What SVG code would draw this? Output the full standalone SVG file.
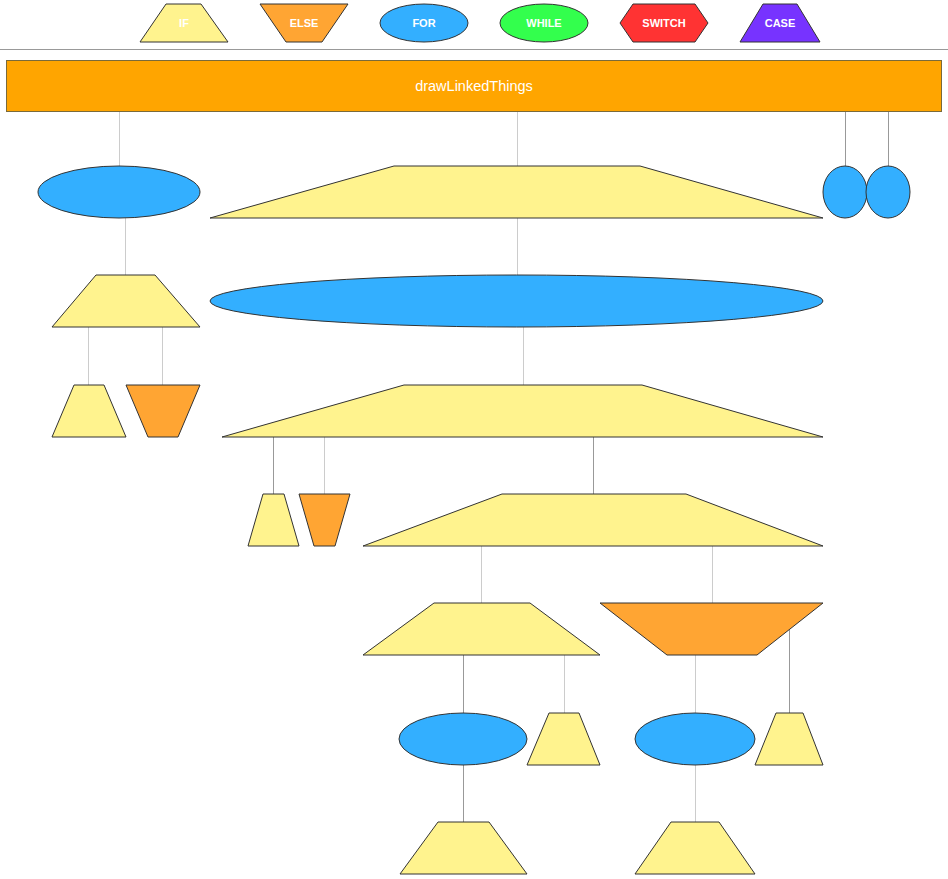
<svg xmlns="http://www.w3.org/2000/svg" width="948" height="879" viewBox="0 0 948 879">
<style>
.if{fill:#FFF38E;stroke:#333;stroke-width:1}
.else{fill:#FFA533;stroke:#333;stroke-width:1}
.for{fill:#33AFFF;stroke:#333;stroke-width:1}
.while{fill:#33FF4D;stroke:#333;stroke-width:1}
.switch{fill:#FF3333;stroke:#333;stroke-width:1}
.case{fill:#7733FF;stroke:#333;stroke-width:1}
.lt{font-family:"Liberation Sans",Arial,sans-serif;font-size:11px;font-weight:bold;fill:#fff;text-anchor:middle}
.lo{stroke:#ccc;stroke-width:1;fill:none}
.dk{stroke:#999;stroke-width:1;fill:none}
</style>
<rect width="948" height="879" fill="#fff"/>
<g id="legend">
<polygon class="if" points="166,4 201,4 228,42 140,42"/>
<text class="lt" x="184" y="27">IF</text>
<polygon class="else" points="260,4 348,4 322,42 286,42"/>
<text class="lt" x="304" y="27">ELSE</text>
<ellipse class="for" cx="424" cy="23" rx="44" ry="19"/>
<text class="lt" x="424" y="27">FOR</text>
<ellipse class="while" cx="544" cy="23" rx="44" ry="19"/>
<text class="lt" x="544" y="27">WHILE</text>
<polygon class="switch" points="620,23 633,4 695,4 708,23 695,42 633,42"/>
<text class="lt" x="664" y="27">SWITCH</text>
<polygon class="case" points="763,4 797,4 820,42 740,42"/>
<text class="lt" x="780" y="27">CASE</text>
</g>
<line x1="0" y1="49.5" x2="948" y2="49.5" stroke="#999" stroke-width="1"/>
<g id="connectors">
<line class="lo" x1="119.5" y1="112" x2="119.5" y2="166"/>
<line class="lo" x1="517.5" y1="112" x2="517.5" y2="166"/>
<line class="dk" x1="845.5" y1="112" x2="845.5" y2="166"/>
<line class="dk" x1="888.5" y1="112" x2="888.5" y2="166"/>
<line class="lo" x1="125.5" y1="218" x2="125.5" y2="275"/>
<line class="lo" x1="517.5" y1="218" x2="517.5" y2="275"/>
<line class="lo" x1="88.5" y1="327" x2="88.5" y2="385"/>
<line class="lo" x1="162.5" y1="327" x2="162.5" y2="385"/>
<line class="lo" x1="523.5" y1="327" x2="523.5" y2="385"/>
<line class="dk" x1="273.5" y1="437" x2="273.5" y2="494"/>
<line class="lo" x1="324.5" y1="437" x2="324.5" y2="494"/>
<line class="dk" x1="593.5" y1="437" x2="593.5" y2="494"/>
<line class="lo" x1="481.5" y1="546" x2="481.5" y2="603"/>
<line class="lo" x1="712.5" y1="546" x2="712.5" y2="603"/>
<line class="dk" x1="463.5" y1="655" x2="463.5" y2="713"/>
<line class="lo" x1="564.5" y1="655" x2="564.5" y2="713"/>
<line class="lo" x1="695.5" y1="655" x2="695.5" y2="713"/>
<line class="dk" x1="789.5" y1="630" x2="789.5" y2="713"/>
<line class="dk" x1="463.5" y1="765" x2="463.5" y2="822"/>
<line class="lo" x1="695.5" y1="765" x2="695.5" y2="822"/>
</g>
<g id="root">
<rect x="6.5" y="60.5" width="935" height="51" fill="#FFA500" stroke="#7a6a3a" stroke-width="1"/>
<text x="474" y="91" font-family="'Liberation Sans',Arial,sans-serif" font-size="14.5" fill="#fff" text-anchor="middle">drawLinkedThings</text>
</g>
<g id="n1"><ellipse class="for" cx="119" cy="192" rx="81" ry="26"/></g>
<g id="n2"><polygon class="if" points="394,166 640,166 823,218 210,218"/></g>
<g id="n3"><ellipse class="for" cx="845" cy="192" rx="22" ry="26"/></g>
<g id="n4"><ellipse class="for" cx="888" cy="192" rx="22" ry="26"/></g>
<g id="n5"><polygon class="if" points="96,275 155,275 200,327 52,327"/></g>
<g id="n6"><ellipse class="for" cx="516.5" cy="301" rx="306.5" ry="26"/></g>
<g id="n7"><polygon class="if" points="74,385 104,385 126,437 52,437"/></g>
<g id="n8"><polygon class="else" points="126,385 200,385 178,437 148,437"/></g>
<g id="n9"><polygon class="if" points="404,385 642,385 823,437 222,437"/></g>
<g id="n10"><polygon class="if" points="263,494 284,494 299,546 248,546"/></g>
<g id="n11"><polygon class="else" points="299,494 350,494 335,546 314,546"/></g>
<g id="n12"><polygon class="if" points="502,494 686,494 823,546 363,546"/></g>
<g id="n13"><polygon class="if" points="434,603 530,603 600,655 363,655"/></g>
<g id="n14"><polygon class="else" points="600,603 823,603 757,655 667,655"/></g>
<g id="n15"><ellipse class="for" cx="463" cy="739" rx="64" ry="26"/></g>
<g id="n16"><polygon class="if" points="549,713 579,713 600,765 527,765"/></g>
<g id="n17"><ellipse class="for" cx="695" cy="739" rx="60" ry="26"/></g>
<g id="n18"><polygon class="if" points="776,713 803,713 823,765 755,765"/></g>
<g id="n19"><polygon class="if" points="438,822 489,822 527,874 400,874"/></g>
<g id="n20"><polygon class="if" points="671,822 719,822 755,874 635,874"/></g>
</svg>
